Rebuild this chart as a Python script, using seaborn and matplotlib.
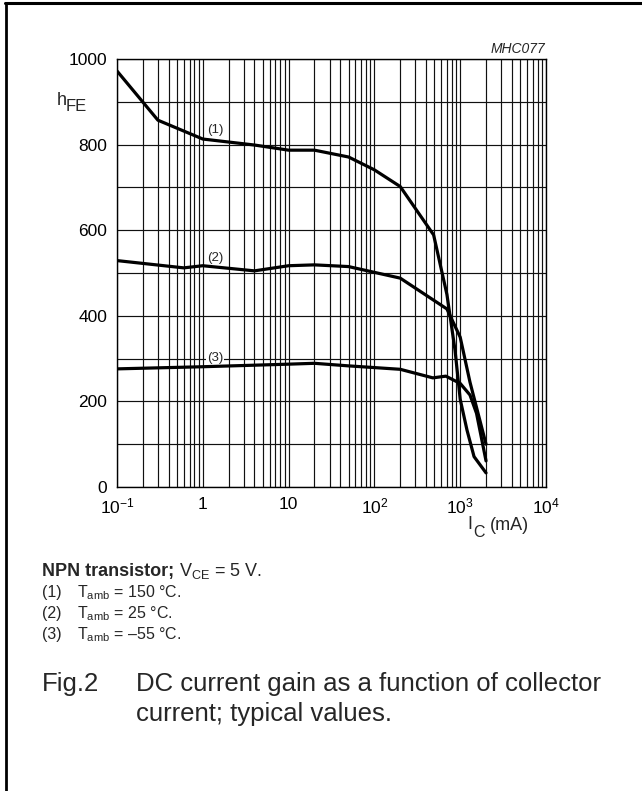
import pandas as pd
import seaborn as sns
import matplotlib.pyplot as plt
from matplotlib.ticker import LogLocator, MultipleLocator, FixedLocator, NullFormatter
from matplotlib.lines import Line2D

# collector current (mA) and DC current gain
ic_150 = [0.1, 0.3, 1, 4, 10, 20, 50, 100, 200, 490, 700, 870, 1000, 1200, 1450, 2000]
hfe_150 = [972, 857, 813, 799, 787, 787, 771, 741, 702, 589, 450, 320, 205, 133, 71, 33]

ic_25 = [0.1, 0.6, 1, 4, 10, 20, 50, 200, 700, 1000, 1300, 2000]
hfe_25 = [529, 512, 517, 505, 517, 519, 515, 488, 416, 350, 245, 100]

ic_m55 = [0.1, 1, 10, 20, 50, 200, 480, 680, 1000, 1300, 1550, 2000]
hfe_m55 = [276, 281, 287, 289, 283, 275, 255, 259, 242, 215, 172, 61]

curve_labels = ['(1)', '(2)', '(3)']
label_x = [1.39, 1.39, 1.39]
label_y = [834, 536, 301]

xtick_vals = [0.1, 1, 10, 100, 1000, 10000]
xtick_text = ['10$^{-1}$', '1', '10', '10$^{2}$', '10$^{3}$', '10$^{4}$']
ytick_vals = [0, 200, 400, 600, 800, 1000]

sns.set_style('white')
plt.rcParams['font.family'] = ['Liberation Sans', 'DejaVu Sans']
plt.rcParams['mathtext.fontset'] = 'custom'
plt.rcParams['mathtext.rm'] = 'Liberation Sans'
plt.rcParams['mathtext.it'] = 'Liberation Sans:italic'
plt.rcParams['mathtext.bf'] = 'Liberation Sans:bold'

W, H = 642, 791
fig = plt.figure(figsize=(W / 100, H / 100), dpi=100)
ax = fig.add_axes([117 / W, 1 - 487 / H, 429 / W, 428 / H])

df = pd.concat([
    pd.DataFrame({'ic': ic_150, 'hfe': hfe_150, 'curve': '(1)'}),
    pd.DataFrame({'ic': ic_25, 'hfe': hfe_25, 'curve': '(2)'}),
    pd.DataFrame({'ic': ic_m55, 'hfe': hfe_m55, 'curve': '(3)'}),
])
for name, sub in df.groupby('curve'):
    sns.lineplot(data=sub, x='ic', y='hfe', ax=ax, color='black', lw=2.3,
                 sort=False, estimator=None, zorder=5)

ax.set_xscale('log')
ax.set_xlim(0.1, 1e4)
ax.set_ylim(0, 1000)
ax.xaxis.set_major_locator(FixedLocator(xtick_vals))
ax.set_xticklabels(xtick_text)
ax.xaxis.set_minor_locator(LogLocator(base=10, subs=range(2, 10), numticks=50))
ax.xaxis.set_minor_formatter(NullFormatter())
ax.yaxis.set_major_locator(FixedLocator(ytick_vals))
ax.yaxis.set_minor_locator(MultipleLocator(100))
ax.tick_params(which='both', length=0, labelsize=12.5, pad=7, colors='black')
ax.grid(True, which='both', color='#111111', lw=0.85)
for s in ax.spines.values():
    s.set_color('black')
    s.set_linewidth(1.0)
ax.set_xlabel('')
ax.set_ylabel('')

for t, x, y in zip(curve_labels, label_x, label_y):
    ax.text(x, y, t, fontsize=9.5, ha='center', va='center', zorder=4,
            bbox=dict(facecolor='white', edgecolor='none', pad=0.6))


def fx(x):
    return x / W


def fy(y):
    return 1 - y / H


# axis titles
fig.text(fx(57), fy(105), 'h', fontsize=13, va='baseline')
fig.text(fx(66), fy(111), 'FE', fontsize=12, va='baseline')
fig.text(fx(467), fy(529), 'I', fontsize=13, va='baseline')
fig.text(fx(473), fy(537), 'C', fontsize=11.5, va='baseline')
fig.text(fx(490), fy(530), '(mA)', fontsize=13, va='baseline')
fig.text(fx(545), fy(53), 'MHC077', fontsize=10, style='italic', ha='right', va='baseline')

# notes
bold = fig.text(fx(42), fy(576), 'NPN transistor;', fontsize=13, fontweight='bold', va='baseline')
fig.canvas.draw()
bb = bold.get_window_extent()
fig.text((bb.x1 + 5) / W, fy(576), 'V$_{\\mathrm{CE}}$ = 5 V.', fontsize=13, va='baseline')

notes = ['150 °C.', '25 °C.', '–55 °C.']
for i, (t, n) in enumerate(zip(curve_labels, notes)):
    yb = 597 + 21 * i
    fig.text(fx(42), fy(yb), t, fontsize=11.5, va='baseline')
    fig.text(fx(77), fy(yb), 'T$_{\\mathrm{amb}}$ = ' + n, fontsize=11.5, va='baseline')

# caption
fig.text(fx(42), fy(691), 'Fig.2', fontsize=18.5, va='baseline')
fig.text(fx(136), fy(691), 'DC current gain as a function of collector', fontsize=18.5, va='baseline')
fig.text(fx(136), fy(721), 'current; typical values.', fontsize=18.5, va='baseline')

# frame lines (top and left only)
fig.add_artist(Line2D([fx(5), 1], [fy(2.5), fy(2.5)], color='black', lw=2.2))
fig.add_artist(Line2D([fx(6), fx(6)], [0, fy(2.5)], color='black', lw=2.0))

fig.savefig('out.png', dpi=100)
